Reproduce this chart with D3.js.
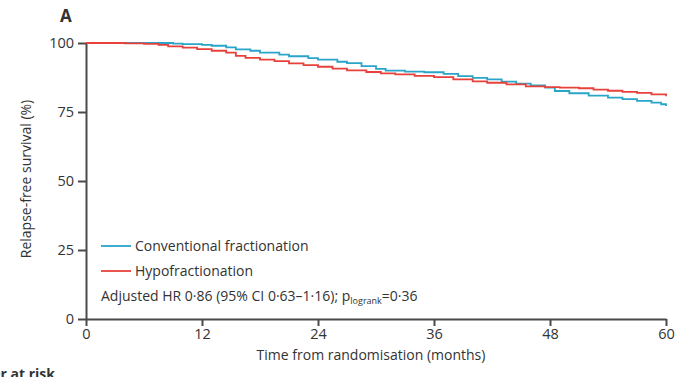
<!DOCTYPE html>
<html>
<head>
<meta charset="utf-8">
<script src="https://cdn.jsdelivr.net/npm/d3@7"></script>
<style>
    html, body { margin: 0; padding: 0; background: #ffffff; }
    #viewportContainer { width: 679px; height: 377px; overflow: hidden; }
    text { font-family: "Open Sans", Lato, sans-serif; fill: #333333; }
</style>
</head>
<body>
<div id="viewportContainer"></div>
<script>

/* --- ビューポート --- */
const viewport = {width: 679, height: 377};
const margin = {top: 43, right: 13, bottom: 58, left: 86};

/* --- データセット --- */
// Conventional fractionation
const convMonths = [0, 9, 10, 12, 13, 14.5, 15.5, 17, 18, 20, 21, 23, 24, 26, 27, 28.5, 30, 31, 33, 35, 37, 38.5, 40, 41.5, 43, 44.5, 46, 47.5, 48.5, 50, 52, 54, 55.5, 57, 58.5, 59.5, 60];
const convSurvival = [100, 99.8, 99.6, 99.3, 99.0, 98.4, 97.7, 97.2, 96.5, 95.8, 95.2, 94.5, 94.0, 93.2, 92.7, 91.6, 90.6, 90.0, 89.6, 89.4, 88.8, 88.0, 87.4, 86.8, 86.0, 85.3, 84.6, 83.8, 82.6, 81.8, 80.9, 80.2, 79.7, 79.0, 78.4, 77.8, 77.2];

// Hypofractionation
const hypoMonths = [0, 4, 6, 7.5, 8.5, 10, 11.5, 13, 14.5, 15.5, 16.5, 18, 19.5, 21, 22.5, 24, 25.5, 27, 29, 30.5, 32, 34, 36, 38, 40, 41.5, 43.5, 45.5, 47.5, 49, 51, 52.5, 54, 55.5, 57, 58.5, 60];
const hypoSurvival = [100, 99.9, 99.7, 99.3, 98.8, 98.3, 97.8, 97.2, 96.5, 95.3, 94.6, 94.0, 93.4, 92.6, 92.0, 91.4, 90.7, 90.1, 89.5, 89.0, 88.6, 88.1, 87.6, 86.8, 86.1, 85.6, 85.0, 84.3, 84.0, 83.8, 83.6, 83.1, 82.7, 82.3, 81.9, 81.4, 80.7];

const seriesNames = ["Conventional fractionation", "Hypofractionation"];
const seriesColors = ["#2aa5c9", "#e8413b"];
const xTicks = [0, 12, 24, 36, 48, 60];
const yTicks = [0, 25, 50, 75, 100];

const series = [
    {name: seriesNames[0], color: seriesColors[0], values: convMonths.map(function(m, i) { return {m: m, v: convSurvival[i]}; })},
    {name: seriesNames[1], color: seriesColors[1], values: hypoMonths.map(function(m, i) { return {m: m, v: hypoSurvival[i]}; })}
];


/*--- SVG作成 ---*/
const svg = d3.select("#viewportContainer")
    .append("svg")
    .attr("width", viewport.width)
    .attr("height", viewport.height);


/*--- スケール ---*/
const xScale = d3.scaleLinear().domain([0, 60]).range([margin.left, viewport.width - margin.right]);
const yScale = d3.scaleLinear().domain([0, 100]).range([viewport.height - margin.bottom, margin.top]);


/*--- 軸 ---*/
const xAxis = d3.axisBottom(xScale).tickValues(xTicks).tickSize(7).tickPadding(3).tickSizeOuter(0);
const yAxis = d3.axisLeft(yScale).tickValues(yTicks).tickSize(8).tickPadding(4).tickSizeOuter(0);

const xAxisG = svg.append("g")
    .attr("transform", "translate(0," + yScale(0) + ")")
    .call(xAxis);

const yAxisG = svg.append("g")
    .attr("transform", "translate(" + xScale(0) + ",0)")
    .call(yAxis);

[xAxisG, yAxisG].forEach(function(g) {
    g.select(".domain").attr("stroke", "#4a4a4a").attr("stroke-width", 2);
    g.selectAll(".tick line").attr("stroke", "#4a4a4a").attr("stroke-width", 2);
    g.selectAll(".tick text")
        .style("font-family", "'Open Sans', Lato, sans-serif")
        .style("font-size", "14.5px")
        .attr("fill", "#3a3a3a");
});


/*--- ラベル ---*/
svg.append("text")
    .attr("x", 371)
    .attr("y", 360)
    .attr("text-anchor", "middle")
    .style("font-size", "14px")
    .text("Time from randomisation (months)");

svg.append("text")
    .attr("transform", "translate(31,179) rotate(-90)")
    .attr("text-anchor", "middle")
    .style("font-size", "14px")
    .text("Relapse-free survival (%)");

svg.append("text")
    .attr("x", 60)
    .attr("y", 22)
    .style("font-size", "17px")
    .style("font-weight", "bold")
    .attr("fill", "#222")
    .text("A");

svg.append("text")
    .attr("x", 55)
    .attr("y", 379)
    .attr("text-anchor", "end")
    .style("font-size", "14px")
    .style("font-weight", "bold")
    .attr("fill", "#222")
    .text("Number at risk");


/*--- 曲線を描画 ---*/
const line = d3.line()
    .x(function(d) { return xScale(d.m); })
    .y(function(d) { return yScale(d.v); })
    .curve(d3.curveStepAfter);

svg.append("g").selectAll("path")
    .data(series)
    .enter()
    .append("path")
    .attr("d", function(d) { return line(d.values); })
    .attr("fill", "none")
    .attr("stroke", function(d) { return d.color; })
    .attr("stroke-width", 1.8);


/*--- 凡例 ---*/
const legend = svg.append("g").selectAll("g")
    .data(series)
    .enter()
    .append("g")
    .attr("transform", function(d, i) { return "translate(101," + (251 + i * 25) + ")"; });

legend.append("line")
    .attr("x1", 0).attr("x2", 30)
    .attr("y1", -5).attr("y2", -5)
    .attr("stroke", function(d) { return d.color; })
    .attr("stroke-width", 1.8);

legend.append("text")
    .attr("x", 34)
    .style("font-size", "14px")
    .text(function(d) { return d.name; });

const stat = svg.append("text")
    .attr("x", 101)
    .attr("y", 301)
    .style("font-size", "14px");

stat.append("tspan").text("Adjusted HR 0·86 (95% CI 0·63–1·16); p");
stat.append("tspan").attr("dy", 3).style("font-size", "9px").text("logrank");
stat.append("tspan").attr("dy", -3).text("=0·36");

</script>
</body>
</html>
